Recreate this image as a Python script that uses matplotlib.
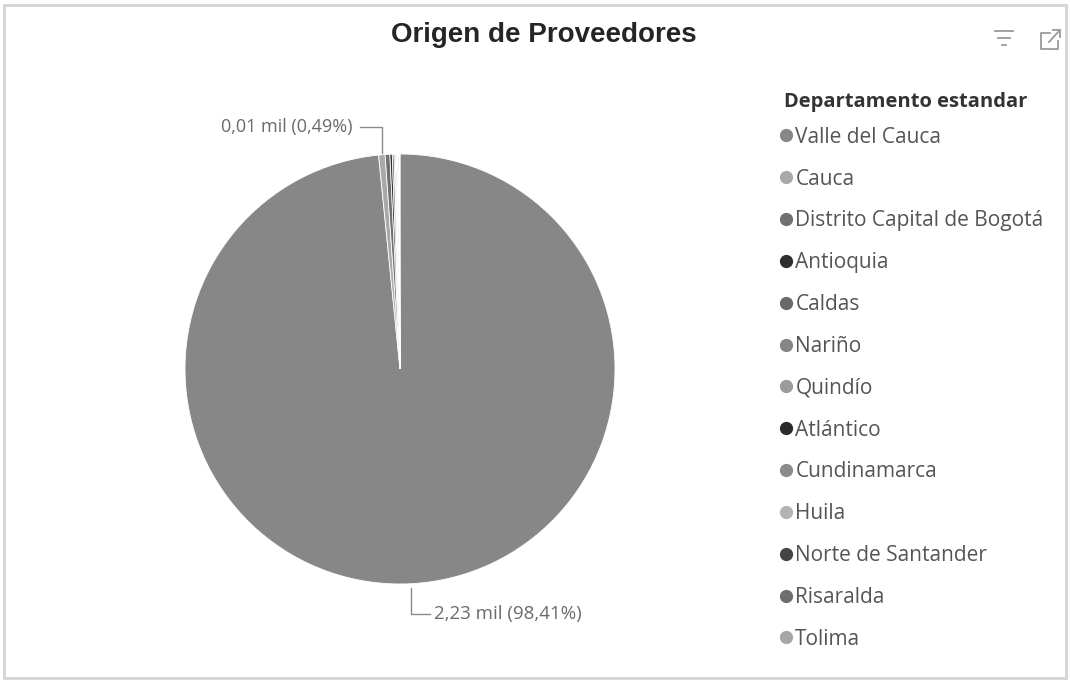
import numpy as np
import matplotlib
matplotlib.use("Agg")
import matplotlib.pyplot as plt
from matplotlib.lines import Line2D
from matplotlib.patches import Rectangle

# data (supplier counts per department)
departamentos = ["Valle del Cauca", "Cauca", "Distrito Capital de Bogotá", "Antioquia",
                 "Caldas", "Nariño", "Quindío", "Atlántico", "Cundinamarca", "Huila",
                 "Norte de Santander", "Risaralda", "Tolima"]
proveedores = [2230, 11, 8, 4, 3, 2, 2, 1, 1, 1, 1, 1, 1]
colores = ["#878787", "#a9a9a9", "#707070", "#2f2f2f", "#696969", "#858585", "#9b9b9b",
           "#2a2a2a", "#8b8b8b", "#b3b3b3", "#444444", "#6e6e6e", "#a6a6a6"]

W, H = 1070, 681
fig = plt.figure(figsize=(W / 100, H / 100), dpi=100)
fig.patch.set_facecolor("white")

# scanned frame around the visual
fig.add_artist(Rectangle((4 / W, 3 / H), 1 - 8 / W, 1 - 8 / H, transform=fig.transFigure,
                         fill=False, edgecolor="#d4d4d4", lw=2))

# pie axes: center (400, 369) px, radius 215 px
cx, cy, R = 400, 369, 215
half = 300
ax = fig.add_axes([(cx - half) / W, (H - cy - half) / H, 2 * half / W, 2 * half / H])
wedges, _ = ax.pie(proveedores, colors=colores, startangle=90, counterclock=False,
                   wedgeprops=dict(edgecolor="white", linewidth=0.6))
L = half / R
ax.set_xlim(-L, L)
ax.set_ylim(-L, L)
ax.set_aspect("equal")
ax.axis("off")

total = sum(proveedores)
lab_col = "#6b6b6b"


def fmt(v):
    pct = v / total * 100
    return f"{v / 1000:.2f} mil ({pct:.2f}%)".replace(".", ",")


# Cauca label (top, left)
w = wedges[1]
ang = np.deg2rad((w.theta1 + w.theta2) / 2)
x0, y0 = np.cos(ang), np.sin(ang)
ax.plot([x0, x0, x0 - 0.1], [y0 + 0.01, y0 + 0.13, y0 + 0.13], color="#8a8a8a", lw=1)
ax.text(x0 - 0.135, y0 + 0.13, fmt(proveedores[1]), ha="right", va="center",
        fontsize=13, color=lab_col, family="Open Sans")

# Valle del Cauca label (bottom)
w = wedges[0]
ang = np.deg2rad((w.theta1 + w.theta2) / 2)
x0, y0 = np.cos(ang), np.sin(ang)
ax.plot([x0, x0, x0 + 0.09], [y0 - 0.02, y0 - 0.14, y0 - 0.14], color="#8a8a8a", lw=1)
ax.text(x0 + 0.11, y0 - 0.14, fmt(proveedores[0]), ha="left", va="center",
        fontsize=13.5, color=lab_col, family="Open Sans")

# title
fig.text(544 / W, 1 - 35 / H, "Origen de Proveedores", ha="center", va="center",
         fontsize=20, fontweight="bold", color="#252525", family="Liberation Sans")

# legend
fig.text(784 / W, 1 - 102 / H, "Departamento estandar", ha="left", va="center",
         fontsize=14.5, fontweight="bold", color="#333333", family="Open Sans")
handles = [Line2D([], [], marker="o", linestyle="", markersize=8.5,
                  markerfacecolor=c, markeredgecolor=c) for c in colores]
leg = fig.legend(handles, departamentos, loc="upper left",
                 bbox_to_anchor=(762 / W, 1 - 108 / H), frameon=False,
                 handlelength=0.5, handletextpad=0.2, labelspacing=1.0,
                 prop=dict(family="Open Sans", size=15))
for t in leg.get_texts():
    t.set_color("#555555")

# header icons (filter, focus mode)
ic = "#9a9a9a"
for i, (a, b) in enumerate([(995, 1013), (998, 1010), (1002, 1006)]):
    y = 1 - (31 + i * 7) / H
    fig.add_artist(Line2D([a / W, b / W], [y, y], color=ic, lw=1.3))
# focus box with outward arrow
fig.add_artist(Line2D([1050 / W, 1041 / W, 1041 / W, 1058 / W, 1058 / W],
                      [1 - 33 / H, 1 - 33 / H, 1 - 49 / H, 1 - 49 / H, 1 - 41 / H],
                      color=ic, lw=1.3))
fig.add_artist(Line2D([1049 / W, 1060 / W], [1 - 42 / H, 1 - 30 / H], color=ic, lw=1.3))
fig.add_artist(Line2D([1053 / W, 1060 / W, 1060 / W], [1 - 30 / H, 1 - 30 / H, 1 - 37 / H],
                      color=ic, lw=1.3))

fig.savefig("out.png", dpi=100)
